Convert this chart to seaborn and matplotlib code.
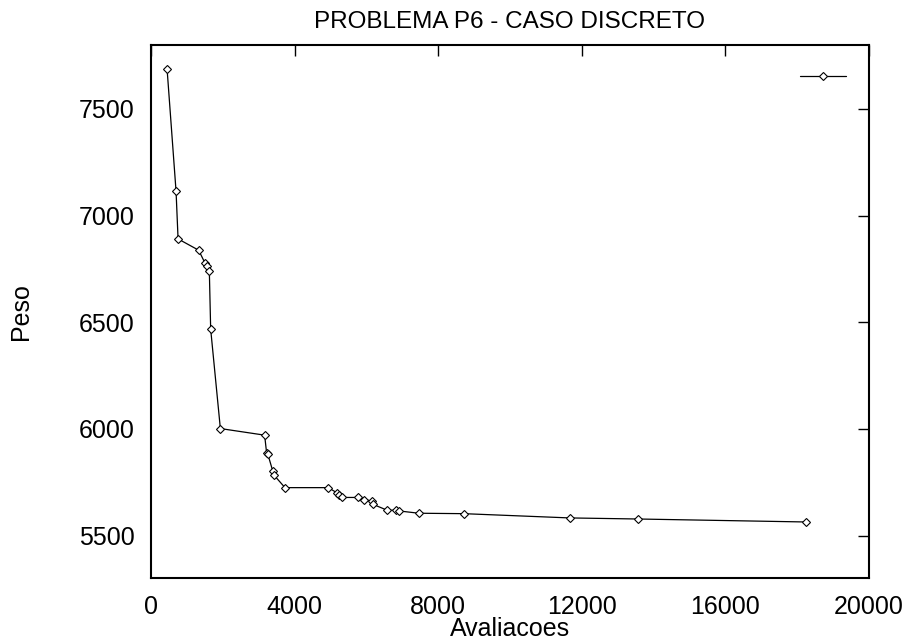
import matplotlib
matplotlib.use("Agg")
import matplotlib.pyplot as plt
import seaborn as sns
import pandas as pd

avaliacoes = [448, 698, 754, 1328, 1500, 1560, 1625, 1662, 1932, 3165, 3220, 3250,
              3388, 3435, 3732, 4937, 5188, 5243, 5308, 5772, 5920, 6143, 6181,
              6579, 6821, 6895, 7461, 8714, 11664, 13557, 18250]
peso = [7687, 7114, 6891, 6838, 6779, 6765, 6740, 6468, 6002, 5971, 5888, 5884,
        5805, 5782, 5725, 5725, 5700, 5689, 5679, 5679, 5669, 5663, 5647,
        5619, 5619, 5616, 5605, 5603, 5583, 5578, 5564]
xticks = [0, 4000, 8000, 12000, 16000, 20000]
yticks = [5500, 6000, 6500, 7000, 7500]
title = "PROBLEMA P6 - CASO DISCRETO"
xlabel = "Avaliacoes"
ylabel = "Peso"

sns.set_style("white")
plt.rcParams['font.family'] = ['Liberation Sans', 'DejaVu Sans']
plt.rcParams['text.color'] = 'black'
plt.rcParams['axes.labelcolor'] = 'black'

df = pd.DataFrame({"Avaliacoes": avaliacoes, "Peso": peso})

fig = plt.figure(figsize=(9.06, 6.43), dpi=100)
ax = fig.add_axes([151/906, 1 - 578.3/643, (869 - 151)/906, (578.3 - 45)/643])

sns.lineplot(data=df, x="Avaliacoes", y="Peso", ax=ax, sort=False, estimator=None,
             color="black", linewidth=0.9, marker="D", markersize=4.3,
             markerfacecolor="white", markeredgecolor="black", markeredgewidth=0.8,
             label="series")

ax.set_xlim(0, 20000)
ax.set_ylim(5300, 7800)
ax.set_xticks(xticks)
ax.set_yticks(yticks)
ax.tick_params(direction="in", length=8, width=1, top=True, right=True,
               labelsize=18, pad=12, colors="black")
for s in ax.spines.values():
    s.set_color("black")
    s.set_linewidth(1.5)

ax.set_title(title, fontsize=17.5, pad=12, color="black")
ax.set_xlabel(xlabel, fontsize=18, color="black")
ax.set_ylabel(ylabel, fontsize=18, color="black")
ax.xaxis.set_label_coords(0.5, -0.072)
ax.yaxis.set_label_coords(-0.164, 0.5)

handles, _ = ax.get_legend_handles_labels()
ax.legend(handles, [""], loc="center left",
          bbox_to_anchor=((800 - 151)/718, (578.3 - 78)/533.3),
          frameon=False, borderpad=0, borderaxespad=0, handletextpad=0,
          handlelength=2.2, fontsize=15)

fig.savefig("out.png", dpi=100)
